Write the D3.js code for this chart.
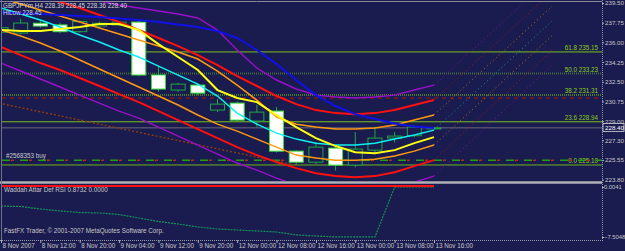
<!DOCTYPE html>
<html><head><meta charset="utf-8">
<script src="https://cdn.jsdelivr.net/npm/d3@7"></script>
<style>html,body{margin:0;padding:0;background:#1a1b4e;overflow:hidden}text{font-family:"Liberation Sans",Arial,sans-serif}</style>
</head><body><svg id="c" width="625" height="251"></svg>
<script>
// ---- data ----
const timeLabels=["8 Nov 2007","8 Nov 12:00","8 Nov 20:00","9 Nov 04:00","9 Nov 12:00","9 Nov 20:00","12 Nov 00:00","12 Nov 08:00","12 Nov 16:00","13 Nov 00:00","13 Nov 08:00","13 Nov 16:00"];
const priceTicks=[239.50,237.75,236.00,234.25,232.50,230.75,229.00,227.30,225.55,223.80];
const opens =[236.90,236.83,237.70,237.55,236.95,237.45,237.55,237.80,233.10,231.76,232.20,229.98,230.60,229.00,229.89,226.33,225.35,226.60,225.09,226.42,227.49,227.70,228.39];
const highs =[237.45,238.10,237.90,237.75,237.95,237.85,237.90,237.95,233.98,232.40,232.35,230.96,230.75,230.45,230.25,226.40,227.13,226.75,228.02,228.50,228.02,228.60,228.45];
const lows  =[236.80,236.70,237.30,236.80,236.85,237.30,237.45,233.00,231.60,231.60,231.30,229.80,229.00,228.50,226.20,225.10,225.20,224.60,224.90,226.20,227.10,227.55,228.36];
const closes=[237.30,237.72,237.45,236.95,237.85,237.70,237.80,233.10,231.85,232.29,231.49,230.51,229.09,229.80,226.33,225.35,226.69,225.09,226.51,227.49,227.67,228.47,228.40];
const blueLine  =[238.65,238.58,238.52,238.43,238.34,238.25,238.12,237.99,237.81,237.59,237.36,237.01,236.39,235.32,234.07,232.65,231.31,230.34,229.62,229.18,228.78,228.51,228.38];
const purpleUp  =[241.72,241.28,240.83,240.48,240.03,239.68,239.32,239.06,238.79,238.52,238.17,237.10,235.32,233.72,232.65,231.85,231.31,231.14,231.05,231.14,231.31,231.76,232.20];
const redUp     =[240.83,240.48,240.03,239.59,239.06,238.43,237.81,237.10,236.39,235.67,234.87,233.98,233.00,232.12,231.23,230.51,229.98,229.71,229.62,229.71,229.98,230.43,230.87];
const orangeUp  =[239.94,239.41,238.88,238.34,237.81,237.28,236.74,236.21,235.67,235.14,234.52,233.45,232.20,230.87,229.36,228.73,228.47,228.29,228.29,228.38,228.65,229.09,229.54];
const cyanLine  =[239.06,238.52,237.99,237.36,236.65,236.03,235.32,234.70,233.89,233.09,232.29,231.23,229.71,228.73,227.93,227.40,227.04,226.87,226.87,227.04,227.40,227.76,228.20];
const yellowLine=[237.10,237.01,237.01,237.19,237.36,237.63,237.63,237.10,235.85,234.70,233.54,231.76,231.05,230.69,229.54,228.47,227.49,226.78,226.24,226.15,226.42,227.04,227.58];
const orangeLo  =[237.10,236.56,235.94,235.23,234.43,233.63,232.83,232.03,231.23,230.43,229.54,228.73,228.11,227.40,226.69,225.98,225.71,225.53,225.53,225.62,225.89,226.33,226.87];
const redLo     =[235.59,234.87,234.16,233.54,232.83,232.12,231.40,230.69,229.89,229.09,228.29,227.49,226.69,225.98,225.35,224.82,224.36,224.11,224.02,224.11,224.46,225.00,225.53];
const purpleLo  =[234.16,233.45,232.74,232.03,231.31,230.60,229.89,229.27,228.47,227.67,226.87,226.07,225.27,224.64,223.93,223.31,222.86,222.60,222.51,222.69,223.04,223.57,224.11];
const fanEnd    =[241.8,240.5,239.2,237.9,236.6,235.3,234.0]; // projected values at bar 28
const fibLevels=[235.15,233.23,231.31,228.94,225.10];
const fibNames=["61.8","50.0","38.2","23.6","0.0"];
const trendPts=[{bar:-0.1,price:230.60},{bar:15.2,price:225.00}];
const stopLevel=231.05, orderLevel=225.53, bidPrice=228.40;
const rsiDiff=[-2.85,-2.93,-3.30,-3.60,-3.83,-3.90,-4.13,-4.65,-5.18,-5.55,-6.00,-6.30,-6.45,-6.60,-6.75,-7.20,-7.35,-7.50,-7.50,-7.50,0.00,0.0041,0.00];
const rsiZero=rsiDiff.map(()=>0);
const subTicks=[0.0041,-7.5048];

// ---- scales ----
const W=625,H=251,RX=602;
const xS=d3.scaleLinear().domain([0,22]).range([1,434]);
const yS=d3.scaleLinear().domain([223.80,239.50]).range([179.6,3]);
const vS=d3.scaleLinear().domain([-7.5048,0.0041]).range([237,187]);
const bw=14;

const svg=d3.select('#c');
svg.append('rect').attr('width',W).attr('height',H).attr('fill','#1a1b4e');
const defs=svg.append('defs');
defs.append('clipPath').attr('id','cm').append('rect').attr('x',2).attr('y',2).attr('width',RX-2).attr('height',179);
defs.append('clipPath').attr('id','cs').append('rect').attr('x',2).attr('y',184).attr('width',RX-2).attr('height',56);
const gm=svg.append('g').attr('clip-path','url(#cm)');
const gs=svg.append('g').attr('clip-path','url(#cs)');

// horizontal objects
const fibStyle=[{c:'#7cc21a',w:1,d:null},{c:'#3f6a3a',w:2,d:'1,1'},{c:'#5c9a22',w:1.5,d:'1,1'},{c:'#7cc21a',w:1,d:null},{c:'#6fb41a',w:1,d:null}];
fibLevels.forEach((p,i)=>{
  gm.append('line').attr('x1',2).attr('x2',RX).attr('y1',yS(p)).attr('y2',yS(p))
    .attr('stroke',fibStyle[i].c).attr('stroke-width',fibStyle[i].w).attr('stroke-dasharray',fibStyle[i].d);
  gm.append('text').attr('x',598).attr('y',yS(p)-2).attr('text-anchor','end').attr('fill','#8ccc1a')
    .attr('font-size',6.3).text(fibNames[i]+'  '+p.toFixed(2));
});
gm.append('line').attr('x1',2).attr('x2',RX).attr('y1',yS(stopLevel)).attr('y2',yS(stopLevel))
  .attr('stroke','#8a1a1a').attr('stroke-width',1.2).attr('stroke-dasharray','4,4');
gm.append('line').attr('x1',2).attr('x2',RX).attr('y1',yS(orderLevel)).attr('y2',yS(orderLevel))
  .attr('stroke','#2a9a1a').attr('stroke-width',1.5).attr('stroke-dasharray','8,10');
gm.append('line').attr('x1',11).attr('x2',RX).attr('y1',yS(orderLevel)).attr('y2',yS(orderLevel))
  .attr('stroke','#b03010').attr('stroke-width',1.5).attr('stroke-dasharray','3,15');
gm.append('text').attr('x',6).attr('y',yS(orderLevel)-2).attr('fill','#c8c8c8').attr('font-size',6.3).text('#2568353 buy');
gm.append('line').attr('x1',2).attr('x2',RX).attr('y1',yS(bidPrice)).attr('y2',yS(bidPrice))
  .attr('stroke','#6a6a7a').attr('stroke-width',1);
gm.append('line').attr('x1',xS(trendPts[0].bar)).attr('x2',xS(trendPts[1].bar))
  .attr('y1',yS(trendPts[0].price)).attr('y2',yS(trendPts[1].price))
  .attr('stroke','#8a3a10').attr('stroke-width',1.5).attr('stroke-dasharray','2,2');

// candles
const idx=d3.range(opens.length);
const cg=gm.append('g');
idx.forEach(i=>{
  const bear=opens[i]>closes[i];
  const x=xS(i);
  const top=yS(Math.max(opens[i],closes[i])), bot=yS(Math.min(opens[i],closes[i]));
  cg.append('line').attr('x1',x).attr('x2',x).attr('y1',yS(highs[i])).attr('y2',yS(lows[i]))
    .attr('stroke','#1fa843').attr('stroke-width',1);
  cg.append('rect').attr('x',x-bw/2).attr('y',top).attr('width',bw).attr('height',Math.max(1,bot-top))
    .attr('fill',bear?'#ffffff':'#1a1b4e').attr('stroke',bear?'#3ce03c':'#1fa843').attr('stroke-width',1);
});

// indicator lines
const line=d3.line().x((d,i)=>xS(i)).y(d=>yS(d));
const series=[[purpleUp,'#9a10c8',1.5],[purpleLo,'#9a10c8',1.5],[redUp,'#ff1010',2],[redLo,'#ff1010',2],
  [orangeUp,'#ff9a10',1.5],[orangeLo,'#ff9a10',1.5],[cyanLine,'#10f0f0',1.5],[blueLine,'#1010e8',2],[yellowLine,'#ffff10',2]];
series.forEach(s=>{gm.append('path').datum(s[0]).attr('d',line).attr('fill','none').attr('stroke',s[1]).attr('stroke-width',s[2]);});
// projected fan (dotted)
const fanStart=[purpleUp,redUp,orangeUp,cyanLine,orangeLo,redLo,purpleLo].map(a=>a[22]);
const fanCols=['#9a10c8','#d01010','#e08a10','#10c0c0','#e08a10','#d01010','#9a10c8'];
fanStart.forEach((p,i)=>{
  gm.append('line').attr('x1',xS(22)).attr('y1',yS(p)).attr('x2',xS(28)).attr('y2',yS(fanEnd[i]))
    .attr('stroke',fanCols[i]).attr('stroke-width',1).attr('stroke-dasharray','1,3').attr('opacity',0.8);
});

// sub window
gs.append('path').datum(rsiDiff).attr('d',d3.line().x((d,i)=>xS(i)).y(d=>vS(d)))
  .attr('fill','none').attr('stroke','#12955a').attr('stroke-width',1.2).attr('stroke-dasharray','2,1');
gs.append('path').datum(rsiZero).attr('d',d3.line().x((d,i)=>xS(i)).y(d=>vS(d)-1))
  .attr('fill','none').attr('stroke','#ff1010').attr('stroke-width',2);
svg.append('text').attr('x',4).attr('y',192).attr('fill','#c8c8c8').attr('font-size',6.3).text('Waddah Attar Def RSI 0.8732 0.0000');
svg.append('text').attr('x',4).attr('y',233).attr('fill','#c8c8c8').attr('font-size',6.3).text('FastFX Trader, © 2001-2007 MetaQuotes Software Corp.');

// frames
svg.append('line').attr('x1',0).attr('x2',RX).attr('y1',1.5).attr('y2',1.5).attr('stroke','#8a8a9a').attr('stroke-width',1);
svg.append('line').attr('x1',0).attr('x2',RX).attr('y1',182.5).attr('y2',182.5).attr('stroke','#b0b0b8').attr('stroke-width',2.5);
svg.append('line').attr('x1',0).attr('x2',RX).attr('y1',240.5).attr('y2',240.5).attr('stroke','#9a9aa8').attr('stroke-width',1).attr('stroke-dasharray','1,1');
svg.append('line').attr('x1',1.5).attr('x2',1.5).attr('y1',0).attr('y2',241).attr('stroke','#70708a').attr('stroke-width',1);
svg.append('line').attr('x1',RX+0.5).attr('x2',RX+0.5).attr('y1',0).attr('y2',241).attr('stroke','#9a9aa8').attr('stroke-width',1).attr('stroke-dasharray','1,1');

// header
svg.append('text').attr('x',3).attr('y',8).attr('fill','#d8d8d8').attr('font-size',6.3).text('GBPJPYm,H4  228.39 228.45 228.36 228.40');
svg.append('text').attr('x',3).attr('y',15).attr('fill','#d8d8d8').attr('font-size',6.3).text('HiLow 228.45');

// price axis
const ay=svg.append('g').attr('transform',`translate(${RX},0)`).call(d3.axisRight(yS).tickValues(priceTicks).tickFormat(d3.format('.2f')).tickSize(2));
ay.select('.domain').remove();
ay.selectAll('line').attr('stroke','#b0b0b8');
ay.selectAll('text').attr('fill','#c8c8c8').attr('font-size',6.2).attr('font-family','Liberation Sans').attr('x',3);
// current price box
svg.append('rect').attr('x',603).attr('y',yS(bidPrice)-4.5).attr('width',21).attr('height',8).attr('fill','#1a1b4e').attr('stroke','#e0e0e0').attr('stroke-width',0.8);
svg.append('text').attr('x',605).attr('y',yS(bidPrice)+2).attr('fill','#ffffff').attr('font-size',6.2).text(bidPrice.toFixed(2));
// sub axis
const av=svg.append('g').attr('transform',`translate(${RX},0)`).call(d3.axisRight(vS).tickValues(subTicks).tickFormat(d3.format('.4f')).tickSize(2));
av.select('.domain').remove();
av.selectAll('line').attr('stroke','#b0b0b8');
av.selectAll('text').attr('fill','#c8c8c8').attr('font-size',5.8).attr('font-family','Liberation Sans').attr('x',2);

// time axis
const tIdx=d3.range(0,23,2);
const ax=svg.append('g').attr('transform','translate(0,240)').call(d3.axisBottom(xS).tickValues(tIdx).tickFormat((d,i)=>timeLabels[i]).tickSize(3));
ax.select('.domain').remove();
ax.selectAll('line').attr('stroke','#b0b0b8');
ax.selectAll('text').attr('fill','#c8c8c8').attr('font-size',6.3).attr('font-family','Liberation Sans').attr('text-anchor','start').attr('dx',1).attr('y',4);
</script></body></html>
